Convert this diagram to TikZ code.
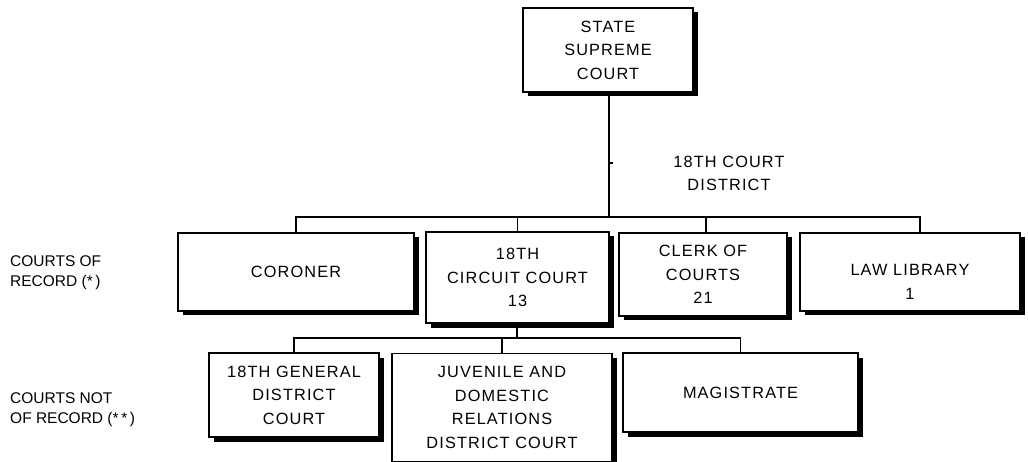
\documentclass[tikz,border=0pt]{standalone}
\usepackage{fontspec}
\setmainfont{Liberation Sans}
\newfontfamily\boxfont[LetterSpace=7]{Liberation Sans}
\usetikzlibrary{shadows}

\tikzset{
  court/.style={draw=black, fill=white, line width=1.1pt, rectangle,
    inner sep=0pt, align=center,
    font=\boxfont\fontsize{16.3}{23.5}\selectfont,
    drop shadow={shadow xshift=4.5pt, shadow yshift=-4.5pt, fill=black, opacity=1}},
  link/.style={draw=black, line width=1.1pt},
  sidenote/.style={align=left, anchor=west, inner sep=0pt,
    font=\fontsize{15.5}{20}\selectfont},
  lbl/.style={align=center, inner sep=0pt,
    font=\boxfont\fontsize{16.3}{23.5}\selectfont}
}

\begin{document}
\begin{tikzpicture}[x=1pt,y=-1pt]
\clip (0,0) rectangle (1028,462);
\fill[white] (0,0) rectangle (1028,462);

% top level
\node[court, minimum width=170pt, minimum height=84pt] (supreme) at (608,50)
  {STATE\\SUPREME\\COURT};

% courts of record
\node[court, minimum width=236pt, minimum height=78pt] (coroner) at (296,272) {CORONER};
\node[court, minimum width=183pt, minimum height=91pt] (circuit) at (517.5,277.5)
  {18TH\\CIRCUIT COURT\\13};
\node[court, minimum width=168pt, minimum height=83pt] (clerk) at (703,274.5)
  {CLERK OF\\COURTS\\21};
\node[court, minimum width=220pt, minimum height=78pt,
      label={[lbl, yshift=-10pt]center:LAW LIBRARY\\1}] (library) at (910,272) {};

% courts not of record
\node[court, minimum width=170pt, minimum height=84pt] (general) at (294,395)
  {18TH GENERAL\\DISTRICT\\COURT};
\node[court, minimum width=220pt, minimum height=108pt] (juvenile) at (502,407.5)
  {JUVENILE AND\\DOMESTIC\\RELATIONS\\DISTRICT COURT};
\node[court, minimum width=235pt, minimum height=79pt] (magistrate) at (740.5,392.5)
  {MAGISTRATE};

% labels
\node[lbl] (district) at (729,173.5) {18TH COURT\\DISTRICT};
\node[sidenote] (record) at (10,273) {COURTS OF\\RECORD (*\,)};
\node[sidenote] (notrecord) at (10,410) {COURTS NOT\\OF RECORD (*\,*\,)};

% upper bus
\coordinate (busA) at (609,217);
\coordinate (tickA) at (609,163);
\coordinate (tickB) at (613,163);
\draw[link] (supreme.south -| busA) -- (busA);
\draw[link] (tickA) -- (tickB);
\draw[link] (coroner.north) |- (busA);
\draw[link] (circuit.north) |- (busA);
\draw[link] ([xshift=3pt]clerk.north) |- (busA);
\draw[link] ([xshift=10pt]library.north) |- (busA);

% lower bus
\coordinate (busB) at (517,338);
\draw[link] (circuit.south -| busB) -- (busB);
\draw[link] (general.north) |- (busB);
\draw[link] (juvenile.north) |- (busB);
\draw[link] (magistrate.north) |- (busB);
\end{tikzpicture}
\end{document}
